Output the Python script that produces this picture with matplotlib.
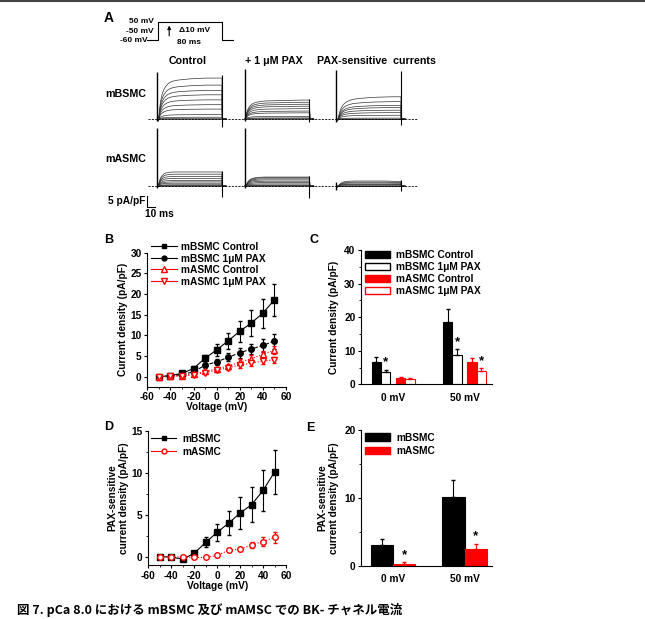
import matplotlib.pyplot as plt
from matplotlib.patches import Patch
from matplotlib.lines import Line2D

plt.rcParams['font.family'] = ['Liberation Sans', 'DejaVu Sans']
plt.rcParams['font.weight'] = 'bold'
plt.rcParams['font.size'] = 7.3
plt.rcParams['axes.linewidth'] = 0.8
plt.rcParams['axes.labelweight'] = 'bold'
plt.rcParams['axes.unicode_minus'] = False
plt.rcParams['xtick.major.size'] = 2.5
plt.rcParams['ytick.major.size'] = 2.5
plt.rcParams['xtick.minor.size'] = 1.5
plt.rcParams['ytick.minor.size'] = 1.5
plt.rcParams['xtick.major.width'] = 0.8
plt.rcParams['ytick.major.width'] = 0.8

W, H = 645, 619
FS = 7.3

# ---- データ (B, D: I-V) ----
volt = [-50, -40, -30, -20, -10, 0, 10, 20, 30, 40, 50]
bsmc_ctrl = [0.0, 0.3, 0.8, 2.0, 4.5, 6.5, 8.7, 11.0, 13.0, 15.4, 18.6]
bsmc_ctrl_err = [0.3, 0.3, 0.3, 0.5, 0.8, 1.4, 2.0, 2.6, 3.1, 3.5, 3.8]
bsmc_pax = [0.0, 0.2, 0.5, 1.2, 2.8, 3.6, 4.7, 5.8, 6.7, 7.6, 8.6]
bsmc_pax_err = [0.2, 0.2, 0.3, 0.4, 0.6, 0.8, 1.0, 1.2, 1.3, 1.5, 1.8]
asmc_ctrl = [0.0, 0.1, 0.3, 0.6, 1.3, 1.9, 2.6, 3.5, 4.4, 5.4, 6.4]
asmc_ctrl_err = [0.2, 0.2, 0.2, 0.3, 0.4, 0.5, 0.6, 0.7, 0.8, 0.9, 1.0]
asmc_pax = [0.0, 0.1, 0.2, 0.5, 1.0, 1.6, 2.2, 2.8, 3.3, 3.8, 4.1]
asmc_pax_err = [0.2, 0.2, 0.2, 0.3, 0.3, 0.4, 0.5, 0.6, 0.6, 0.7, 0.7]

sens_bsmc = [0.0, -0.05, -0.3, 0.4, 1.7, 2.9, 4.0, 5.2, 6.2, 7.9, 10.1]
sens_bsmc_err = [0.1, 0.1, 0.15, 0.3, 0.6, 1.0, 1.4, 1.9, 2.1, 2.4, 2.6]
sens_asmc = [0.0, 0.0, -0.05, -0.1, -0.1, 0.15, 0.75, 0.9, 1.4, 1.8, 2.3]
sens_asmc_err = [0.1, 0.1, 0.1, 0.1, 0.1, 0.15, 0.2, 0.25, 0.4, 0.5, 0.7]

# ---- C, E 棒グラフ (0 mV, 50 mV) ----
groups = ['0 mV', '50 mV']
c_vals = [[6.5, 18.6], [3.6, 8.6], [1.9, 6.5], [1.7, 4.1]]
c_errs = [[1.5, 3.8], [0.7, 1.8], [0.3, 1.2], [0.2, 0.7]]
c_sig = [[False, False], [True, True], [False, False], [False, True]]
e_vals = [[3.0, 10.1], [0.3, 2.4]]
e_errs = [[1.0, 2.6], [0.2, 0.8]]
e_sig = [[False, False], [True, True]]

# ---- A 電流トレース: 規格化した活性化の時間経過 ----
t_act = [0, 1, 2, 3, 4, 6, 8, 10, 13, 16, 20, 25, 30, 40, 50, 60, 70, 80]
shape_bsmc_ctrl = [0, -0.06, 0.1, 0.3, 0.45, 0.62, 0.72, 0.79, 0.86, 0.9, 0.93, 0.95, 0.96, 0.98, 0.99, 1.0, 1.0, 1.0]
shape_bsmc_pax = [0, 0.1, 0.3, 0.45, 0.55, 0.68, 0.76, 0.82, 0.87, 0.9, 0.93, 0.95, 0.96, 0.97, 0.98, 0.99, 1.0, 1.0]
shape_bsmc_sens = [0, -0.1, -0.05, 0.15, 0.3, 0.5, 0.62, 0.7, 0.78, 0.83, 0.88, 0.91, 0.93, 0.96, 0.98, 0.99, 1.0, 1.0]
shape_asmc_ctrl = [0, 0.05, 0.25, 0.45, 0.6, 0.76, 0.86, 0.92, 0.96, 0.98, 1.0, 1.0, 1.0, 1.0, 1.0, 1.0, 1.0, 1.0]
shape_asmc_pax = [0, 0.05, 0.2, 0.38, 0.52, 0.7, 0.8, 0.87, 0.93, 0.96, 0.98, 1.0, 1.0, 1.0, 1.0, 1.0, 1.0, 1.0]
shape_asmc_sens = [0, -0.3, -0.1, 0.15, 0.35, 0.6, 0.75, 0.85, 0.92, 0.96, 0.98, 1.0, 1.0, 1.0, 1.0, 1.0, 0.95, 0.9]
col_offset = [0, 108.6, 222]  # ms
bsmc_on = [(-1, 21.5), (-1, 22.6), (-1.5, 22.3)]
bsmc_off = [(-3.5, 20), (-1.5, 9), (-2.5, 22)]
asmc_on = [(-1, 26.2), (-1, 26.2), (-2, 2)]
asmc_off = [(-4.9, 7), (-5.5, 4.5), (-2.2, 2.7)]

fig = plt.figure(figsize=(W / 100, H / 100), dpi=100)


def px_axes(l, t, r, b):
    return fig.add_axes([l / W, 1 - b / H, (r - l) / W, (b - t) / H])


def style(ax):
    ax.spines['top'].set_visible(False)
    ax.spines['right'].set_visible(False)
    ax.tick_params(direction='out', labelsize=FS, pad=1.5)


# 上の枠線
fig.add_artist(Line2D([0, 1], [1 - 1 / H, 1 - 1 / H], color='#444444', lw=1.5))

# ---- A ----
fig.text(104 / W, 1 - 18 / H, 'A', fontsize=10, weight='bold', va='center')

# 電位プロトコル
axp = px_axes(100, 14, 240, 50)
axp.axis('off')
axp.set_xlim((100 - 157.5) / 0.806, (240 - 157.5) / 0.806)
axp.set_ylim(-60 - (50 - 40) / 0.164, -60 + (40 - 14) / 0.164)
axp.plot([-12.5, 0, 0, 80, 80, 93.5], [-60, -60, 50, 50, -60, -60], color='k', lw=0.8)
axp.annotate('', xy=(14.5, 45), xytext=(14.5, -52),
             arrowprops=dict(arrowstyle='-|>', color='k', lw=0.8, mutation_scale=5))
axp.text(46, -5, 'Δ10 mV', fontsize=6, ha='center', va='center')
axp.text(39, -78, '80 ms', fontsize=6, ha='center', va='center')
axp.text(-5, 52, '50 mV', fontsize=6, ha='right', va='center')
axp.text(-5, -8, '-50 mV', fontsize=6, ha='right', va='center')
axp.text(-12.5, -62, '-60 mV', fontsize=6, ha='right', va='center')

fig.text(188 / W, 1 - 61 / H, 'Control', fontsize=7.7, ha='center', va='center')
fig.text(274 / W, 1 - 61 / H, '+ 1 μM PAX', fontsize=7.7, ha='center', va='center')
fig.text(376 / W, 1 - 61 / H, 'PAX-sensitive  currents', fontsize=7.7, ha='center', va='center')
fig.text(105 / W, 1 - 94 / H, 'mBSMC', fontsize=7.7, va='center')
fig.text(105 / W, 1 - 159 / H, 'mASMC', fontsize=7.7, va='center')


def trace_row(ax, amps_list, shapes, on, off):
    for k in range(3):
        x0 = col_offset[k]
        for amp in amps_list[k]:
            ys = [amp * s for s in shapes[k]] + [0, 0]
            xs = [x0 + t for t in t_act] + [x0 + 80.5, x0 + 85]
            ax.plot(xs, ys, color='#333333', lw=0.5)
        ax.vlines(x0, on[k][0], on[k][1], color='k', lw=1.0)
        ax.vlines(x0 + 80, off[k][0], off[k][1], color='k', lw=0.8)
    ax.plot([-11.8, 323], [0, 0], color='k', lw=0.6, ls=(0, (2.5, 1.5)))


ax_r1 = px_axes(100, 64, 440, 130)
ax_r1.axis('off')
ax_r1.set_xlim(-71.3, 350.5)
ax_r1.set_ylim(-5, 25)
trace_row(ax_r1, [bsmc_ctrl, bsmc_pax, sens_bsmc],
          [shape_bsmc_ctrl, shape_bsmc_pax, shape_bsmc_sens], bsmc_on, bsmc_off)

ax_r2 = px_axes(100, 124, 440, 218)
ax_r2.axis('off')
ax_r2.set_xlim(-71.3, 350.5)
ax_r2.set_ylim(-14.5, 28.2)
trace_row(ax_r2, [asmc_ctrl, asmc_pax, sens_asmc],
          [shape_asmc_ctrl, shape_asmc_pax, shape_asmc_sens], asmc_on, asmc_off)
# スケールバー
ax_r2.plot([-12.7, -12.7, -2.7], [-4.7, -9.7, -9.7], color='k', lw=0.8)
ax_r2.text(-14.5, -6.8, '5 pA/pF', fontsize=FS, ha='right', va='center')
ax_r2.text(-15, -12.9, '10 ms', fontsize=FS, ha='left', va='center')

# ---- B ----
axB = px_axes(147.3, 252.7, 286, 386.7)
style(axB)
axB.errorbar(volt, bsmc_ctrl, yerr=bsmc_ctrl_err, fmt='-s', color='k', ms=4, lw=0.8,
             capsize=1.5, elinewidth=0.8, label='mBSMC Control')
axB.errorbar(volt, bsmc_pax, yerr=bsmc_pax_err, fmt='--o', color='k', ms=4, lw=0.8,
             capsize=1.5, elinewidth=0.8, label='mBSMC 1μM PAX')
axB.errorbar(volt, asmc_ctrl, yerr=asmc_ctrl_err, fmt=':^', color='red', mfc='white', mec='red',
             ms=4.5, lw=0.8, capsize=1.5, elinewidth=0.8, label='mASMC Control')
axB.errorbar(volt, asmc_pax, yerr=asmc_pax_err, fmt=':v', color='red', mfc='white', mec='red',
             ms=4.5, lw=0.8, capsize=1.5, elinewidth=0.8, label='mASMC 1μM PAX')
axB.set_xlim(-60, 60)
axB.set_ylim(-2.4, 30)
axB.set_xticks(range(-60, 61, 20))
axB.set_xticks(range(-50, 60, 20), minor=True)
axB.set_yticks(range(0, 31, 5))
axB.set_xlabel('Voltage (mV)', fontsize=FS, labelpad=0)
axB.set_ylabel('Current density (pA/pF)', fontsize=FS, labelpad=2)
hB = [Line2D([], [], color='k', marker='s', ms=3.5, lw=0.8),
      Line2D([], [], color='k', marker='o', ms=3.5, lw=0.8),
      Line2D([], [], color='red', marker='^', mfc='white', ms=4, lw=0.8),
      Line2D([], [], color='red', marker='v', mfc='white', ms=4, lw=0.8)]
axB.legend(hB, ['mBSMC Control', 'mBSMC 1μM PAX', 'mASMC Control', 'mASMC 1μM PAX'],
           loc='upper left', bbox_to_anchor=(0.03, 1.08), frameon=False, fontsize=FS,
           handlelength=2.5, handletextpad=0.4, labelspacing=0.15, borderpad=0, borderaxespad=0)
fig.text(104 / W, 1 - 240 / H, 'B', fontsize=9, weight='bold', va='center')


def bar_panel(ax, vals, errs, sig, offs, width, faces, edges, ecols):
    for k in range(len(vals)):
        xs = [g + offs[k] for g in range(len(groups))]
        ax.bar(xs, vals[k], width, color=faces[k], edgecolor=edges[k], lw=0.8)
        ax.errorbar(xs, vals[k], yerr=[[0] * len(groups), errs[k]], fmt='none',
                    ecolor=ecols[k], elinewidth=0.8, capsize=1.5)
        for g in range(len(groups)):
            if sig[k][g]:
                ax.annotate('*', (xs[g], vals[k][g] + errs[k][g]), xytext=(0, 1),
                            textcoords='offset points', ha='center', va='bottom', fontsize=9.5)
    ax.set_xticks(range(len(groups)))
    ax.set_xticklabels(groups)
    ax.tick_params(axis='x', length=0, pad=6)
    ax.set_xlim(-0.45, 1.38)


# ---- C ----
axC = px_axes(361, 250, 491.7, 384.3)
style(axC)
bar_panel(axC, c_vals, c_errs, c_sig, [-0.235, -0.105, 0.105, 0.235], 0.13,
          ['k', 'white', 'red', 'white'], ['k', 'k', 'red', 'red'], ['k', 'k', 'red', 'red'])
axC.set_ylim(0, 40)
axC.set_yticks(range(0, 41, 10))
axC.set_yticks(range(5, 40, 10), minor=True)
axC.set_ylabel('Current density (pA/pF)', fontsize=FS, labelpad=4)
hC = [Patch(facecolor='k', edgecolor='k'), Patch(facecolor='white', edgecolor='k'),
      Patch(facecolor='red', edgecolor='red'), Patch(facecolor='white', edgecolor='red')]
axC.legend(hC, ['mBSMC Control', 'mBSMC 1μM PAX', 'mASMC Control', 'mASMC 1μM PAX'],
           loc='upper left', bbox_to_anchor=(0.03, 1.0), frameon=False, fontsize=FS,
           handlelength=2.5, handleheight=0.75, handletextpad=0.6, labelspacing=0.2,
           borderpad=0, borderaxespad=0)
fig.text(309 / W, 1 - 240 / H, 'C', fontsize=9, weight='bold', va='center')

# ---- D ----
axD = px_axes(148.3, 431, 286, 565)
style(axD)
axD.errorbar(volt, sens_bsmc, yerr=sens_bsmc_err, fmt='-s', color='k', ms=4, lw=0.8,
             capsize=1.5, elinewidth=0.8)
axD.errorbar(volt, sens_asmc, yerr=sens_asmc_err, fmt=':o', color='red', mfc='white', mec='red',
             ms=4, lw=0.8, capsize=1.5, elinewidth=0.8)
axD.set_xlim(-60, 60)
axD.set_ylim(-1, 15)
axD.set_xticks(range(-60, 61, 20))
axD.set_xticks(range(-50, 60, 20), minor=True)
axD.set_yticks([0, 5, 10, 15])
axD.set_yticks([2.5, 7.5, 12.5], minor=True)
axD.set_xlabel('Voltage (mV)', fontsize=FS, labelpad=0)
axD.set_ylabel('PAX-sensitive\ncurrent density (pA/pF)', fontsize=FS, labelpad=2)
hD = [Line2D([], [], color='k', marker='s', ms=3.5, lw=0.8),
      Line2D([], [], color='red', marker='o', mfc='white', ms=3.5, lw=0.8)]
axD.legend(hD, ['mBSMC', 'mASMC'], loc='upper left', bbox_to_anchor=(0.02, 0.98), frameon=False,
           fontsize=FS, handlelength=2.5, handletextpad=0.6, labelspacing=0.3,
           borderpad=0, borderaxespad=0)
fig.text(104 / W, 1 - 427 / H, 'D', fontsize=9, weight='bold', va='center')

# ---- E ----
axE = px_axes(361, 430, 491.7, 565.7)
style(axE)
bar_panel(axE, e_vals, e_errs, e_sig, [-0.155, 0.155], 0.31,
          ['k', 'red'], ['k', 'red'], ['k', 'red'])
axE.set_ylim(0, 20)
axE.set_yticks([0, 10, 20])
axE.set_yticks([5, 15], minor=True)
axE.set_ylabel('PAX-sensitive\ncurrent density (pA/pF)', fontsize=FS, labelpad=4)
hE = [Patch(facecolor='k', edgecolor='k'), Patch(facecolor='red', edgecolor='red')]
axE.legend(hE, ['mBSMC', 'mASMC'], loc='upper left', bbox_to_anchor=(0.03, 0.98), frameon=False,
           fontsize=FS, handlelength=2.5, handleheight=0.75, handletextpad=0.6,
           labelspacing=0.3, borderpad=0, borderaxespad=0)
fig.text(306 / W, 1 - 428 / H, 'E', fontsize=9, weight='bold', va='center')

# キャプション
fig.text(17 / W, 1 - 617 / H, '図 7. pCa 8.0 における mBSMC 及び mAMSC での BK- チャネル電流',
         fontsize=9, weight='bold', va='bottom', family=['Noto Sans CJK JP', 'DejaVu Sans'])

fig.savefig('out.png', dpi=100)
